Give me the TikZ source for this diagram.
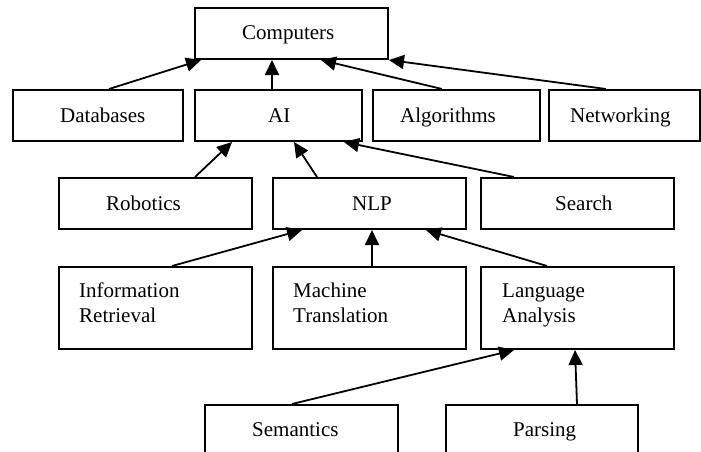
\documentclass[tikz,border=0pt]{standalone}
\usepackage{fontspec}
\setmainfont{Liberation Serif}
\usetikzlibrary{arrows.meta}
\begin{document}
\begin{tikzpicture}[x=1pt,y=-1pt,
  box/.style={draw,line width=2pt,inner sep=0pt,minimum height=51pt},
  lbl/.style={anchor=base west,inner sep=0pt,font=\fontsize{21}{25}\selectfont,align=left},
  arr/.style={line width=1.8pt,-{Triangle[length=15pt,width=14pt]}}]
\clip (0,0) rectangle (701,452);
\fill[white] (0,0) rectangle (701,452);
% boxes
\node[box,minimum width=193pt] (comp) at (291.5,33.5) {};
\node[box,minimum width=170pt] (db) at (98,115.5) {};
\node[box,minimum width=167pt] (ai) at (278.5,115.5) {};
\node[box,minimum width=167pt] (alg) at (456.5,115.5) {};
\node[box,minimum width=151pt] (net) at (624.5,115.5) {};
\node[box,minimum width=193pt] (rob) at (155.5,203.5) {};
\node[box,minimum width=193pt] (nlp) at (369.5,203.5) {};
\node[box,minimum width=193pt] (search) at (577.5,203.5) {};
\node[box,minimum width=193pt,minimum height=82pt] (ir) at (155.5,308) {};
\node[box,minimum width=193pt,minimum height=82pt] (mt) at (369.5,308) {};
\node[box,minimum width=193pt,minimum height=82pt] (la) at (577.5,308) {};
\node[box,minimum width=193pt,minimum height=65pt] (sem) at (301.5,437.5) {};
\node[box,minimum width=192pt,minimum height=65pt] (par) at (542,437.5) {};
% labels
\node[lbl] (tcomp) at (242,40) {Computers};
\node[lbl] (tdb) at (60,122) {Databases};
\node[lbl] (tai) at (268,122) {AI};
\node[lbl] (talg) at (400,122) {Algorithms};
\node[lbl] (tnet) at (570,122) {Networking};
\node[lbl] (trob) at (106,210) {Robotics};
\node[lbl] (tnlp) at (352,210) {NLP};
\node[lbl] (tsearch) at (555,210) {Search};
\node[lbl] (tir) at (79,322) {Information\\Retrieval};
\node[lbl] (tmt) at (293,322) {Machine\\Translation};
\node[lbl] (tla) at (502,322) {Language\\Analysis};
\node[lbl] (tsem) at (252,436) {Semantics};
\node[lbl] (tpar) at (513,436) {Parsing};
% connectors
\draw[arr] ([xshift=97pt]db.north west) -- ([xshift=7pt]comp.south west);
\draw[arr] ([xshift=78pt]ai.north west) -- ([xshift=78pt]comp.south west);
\draw[arr] ([xshift=70pt]alg.north west) -- ([xshift=127pt]comp.south west);
\draw[arr] ([xshift=58pt]net.north west) -- (comp.south east);
\draw[arr] ([xshift=137pt]rob.north west) -- ([xshift=38pt]ai.south west);
\draw[arr] ([xshift=45pt]nlp.north west) -- ([xshift=100pt]ai.south west);
\draw[arr] ([xshift=34pt]search.north west) -- ([xshift=150pt]ai.south west);
\draw[arr] ([xshift=114pt]ir.north west) -- ([xshift=30pt]nlp.south west);
\draw[arr] ([xshift=100pt]mt.north west) -- ([xshift=100pt]nlp.south west);
\draw[arr] ([xshift=67pt]la.north west) -- ([xshift=154pt]nlp.south west);
\draw[arr] ([xshift=88pt]sem.north west) -- ([xshift=34pt]la.south west);
\draw[arr] ([xshift=132pt]par.north west) -- ([xshift=95pt]la.south west);
\end{tikzpicture}
\end{document}
